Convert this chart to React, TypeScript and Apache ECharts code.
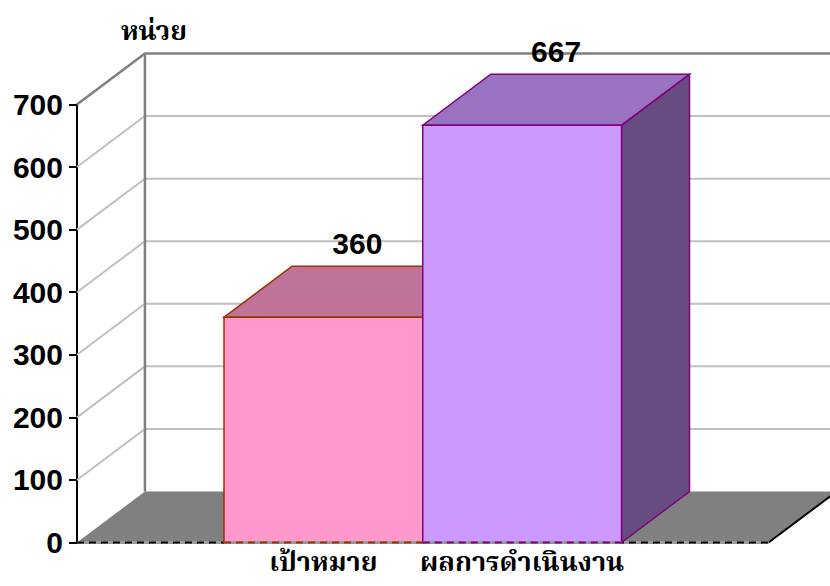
import React, { useEffect, useRef } from 'react';
import * as echarts from 'echarts';

const categories = ['เป้าหมาย', 'ผลการดำเนินงาน'];
const values = [360, 667];
const yTicks = [0, 100, 200, 300, 400, 500, 600, 700];
const unitLabel = 'หน่วย';

const DX = 68;
const DY = -51;
const SIDE = 0.74;
const THAI_FONT = "'Noto Serif Thai','Noto Sans Thai','Tlwg Typo','Garuda','Loma',serif";
const NUM_FONT = "'Liberation Sans', Arial, sans-serif";

const barStyles = [
  { front: '#FF99CC', top: '#BF7399', side: '#995079', border: '#993300' },
  { front: '#CC99FF', top: '#9973BF', side: '#664C80', border: '#800080' },
];

export default function App() {
  const ref = useRef<HTMLDivElement>(null);
  useEffect(() => {
    if (!ref.current) return;
    const chart = echarts.init(ref.current, null, { renderer: 'svg' });
    const yMax = yTicks[yTicks.length - 1];
    const option: any = {
      animation: false,
      backgroundColor: '#ffffff',
      title: {
        text: unitLabel,
        left: 116,
        top: 14,
        textStyle: { fontFamily: THAI_FONT, fontWeight: 'bold', fontSize: 27, color: '#000' },
      },
      grid: { left: 224, right: 208.5, top: 104.5, bottom: 43.5 },
      xAxis: {
        type: 'category',
        data: categories,
        boundaryGap: true,
        axisLine: { show: false },
        axisTick: { show: false },
        axisLabel: {
          interval: 0,
          margin: 6,
          lineHeight: 30,
          fontFamily: THAI_FONT,
          fontWeight: 'bold',
          fontSize: 27,
          color: '#000',
        },
      },
      yAxis: {
        type: 'value',
        min: 0,
        max: yMax,
        interval: 100,
        offset: 147,
        axisLine: { show: true, lineStyle: { color: '#000', width: 2 } },
        axisTick: { show: true, length: 8, lineStyle: { color: '#000', width: 2 } },
        splitLine: { show: false },
        axisLabel: {
          margin: 14,
          fontFamily: NUM_FONT,
          fontWeight: 'bold',
          fontSize: 30,
          color: '#000',
        },
      },
      series: [
        {
          type: 'custom',
          clip: false,
          z: 1,
          data: [[0, 0]],
          renderItem: (params: any, api: any) => {
            const bw = api.size([1, 0])[0];
            const c0 = api.coord([0, 0]);
            const c1 = api.coord([categories.length - 1, 0]);
            const xl = c0[0] - bw * (0.5 + SIDE);
            const xr = c1[0] + bw * (0.5 + SIDE);
            const y0 = c0[1];
            const yTop = api.coord([0, yMax])[1];
            const children: any[] = [];
            children.push({
              type: 'polygon',
              shape: { points: [[xl, y0], [xr, y0], [xr + DX, y0 + DY], [xl + DX, y0 + DY]] },
              style: { fill: '#808080', stroke: null },
            });
            yTicks.forEach((v) => {
              if (v === 0) return;
              const y = api.coord([0, v])[1];
              const top = v === yMax;
              children.push({
                type: 'polyline',
                shape: { points: [[xl, y], [xl + DX, y + DY], [xr + DX, y + DY]] },
                style: { stroke: top ? '#808080' : '#C0C0C0', lineWidth: top ? 2.5 : 2, fill: null },
              });
            });
            children.push({
              type: 'line',
              shape: { x1: xl + DX, y1: y0 + DY, x2: xl + DX, y2: yTop + DY },
              style: { stroke: '#808080', lineWidth: 2.5 },
            });
            children.push({
              type: 'line',
              shape: { x1: xr, y1: y0, x2: xr + DX, y2: y0 + DY },
              style: { stroke: '#000', lineWidth: 2 },
            });
            children.push({
              type: 'line',
              shape: { x1: xl, y1: y0, x2: xr, y2: y0 },
              style: { stroke: '#9a9a9a', lineWidth: 3 },
            });
            children.push({
              type: 'line',
              shape: { x1: xl, y1: y0, x2: xr, y2: y0 },
              style: { stroke: '#000', lineWidth: 2, lineDash: [7, 5] },
            });
            return { type: 'group', children };
          },
        },
        {
          type: 'custom',
          clip: false,
          z: 2,
          data: values.map((v, i) => [i, v]),
          renderItem: (params: any, api: any) => {
            const i = api.value(0);
            const v = api.value(1);
            const bw = api.size([1, 0])[0];
            const t = api.coord([i, v]);
            const b = api.coord([i, 0]);
            const xl = t[0] - bw / 2;
            const xr = t[0] + bw / 2;
            const yt = t[1];
            const yb = b[1];
            const s = barStyles[i];
            const lw = 1.5;
            return {
              type: 'group',
              children: [
                {
                  type: 'polygon',
                  shape: { points: [[xr, yt], [xr, yb], [xr + DX, yb + DY], [xr + DX, yt + DY]] },
                  style: { fill: s.side, stroke: s.border, lineWidth: lw },
                },
                {
                  type: 'polygon',
                  shape: { points: [[xl, yt], [xr, yt], [xr + DX, yt + DY], [xl + DX, yt + DY]] },
                  style: { fill: s.top, stroke: s.border, lineWidth: lw },
                },
                {
                  type: 'polygon',
                  shape: { points: [[xl, yt], [xr, yt], [xr, yb], [xl, yb]] },
                  style: { fill: s.front, stroke: s.border, lineWidth: lw },
                },
                {
                  type: 'line',
                  shape: { x1: xl, y1: yb, x2: xr, y2: yb },
                  style: { stroke: '#9a9a9a', lineWidth: 3 },
                },
                {
                  type: 'line',
                  shape: { x1: xl, y1: yb, x2: xr, y2: yb },
                  style: { stroke: s.border, lineWidth: 2, lineDash: [7, 5] },
                },
                {
                  type: 'text',
                  style: {
                    text: String(v),
                    x: t[0] + DX / 2,
                    y: yt + DY - 23,
                    align: 'center',
                    verticalAlign: 'middle',
                    fontFamily: NUM_FONT,
                    fontWeight: 'bold',
                    fontSize: 30,
                    fill: '#000',
                  },
                },
              ],
            };
          },
        },
      ],
    };
    chart.setOption(option);
    return () => chart.dispose();
  }, []);
  return (
    <div
      ref={ref}
      style={{ position: 'absolute', left: 0, top: 0, width: 830, height: 586 }}
    />
  );
}
